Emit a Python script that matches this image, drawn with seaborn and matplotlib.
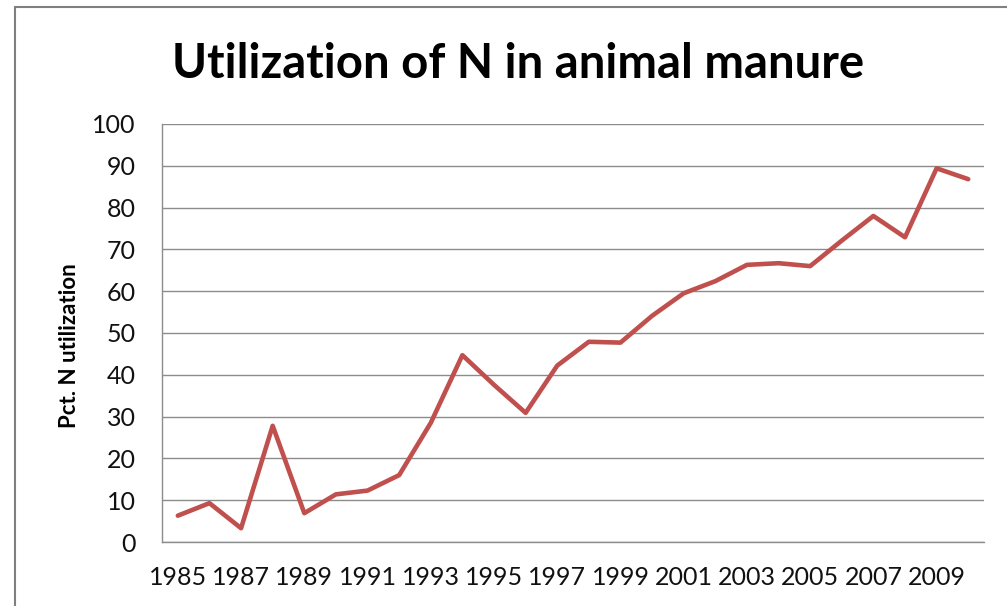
import numpy as np
import pandas as pd
import matplotlib.pyplot as plt
import seaborn as sns
from matplotlib.patches import Rectangle
from matplotlib.ticker import MultipleLocator

years = list(range(1985, 2011))
pct_n = [6.3, 9.3, 3.3, 27.8, 6.9, 11.4, 12.3, 16.0, 28.5, 44.7,
         37.6, 30.9, 42.2, 47.9, 47.7, 54.1, 59.5, 62.4, 66.3, 66.7,
         66.0, 72.1, 78.0, 72.9, 89.4, 86.8]
label_years = list(range(1985, 2011, 2))

df = pd.DataFrame({'year': years, 'pct': pct_n})

sns.set_style('white')
plt.rcParams['font.family'] = ['Lato', 'DejaVu Sans']

fig = plt.figure(figsize=(10.07, 6.06), dpi=100)
ax = fig.add_axes([0.1609, 0.1056, 0.8163, 0.6898])

grid_col = '#8c8c8c'
sns.lineplot(data=df, x='year', y='pct', color='#C0504D', lw=3.3, ax=ax, zorder=3)

ax.set_xlim(1984.5, 2010.5)
ax.set_ylim(0, 100)
ax.yaxis.set_major_locator(MultipleLocator(10))
ax.set_xticks(label_years)
ax.set_xticks(np.arange(1984.5, 2011, 1), minor=True)
ax.tick_params(axis='x', which='major', length=0, pad=17, labelsize=18, labelcolor='#111111')
ax.tick_params(axis='x', which='minor', length=7, width=1, color=grid_col, direction='out')
ax.tick_params(axis='y', length=7, width=1, color=grid_col, pad=12, labelsize=18, labelcolor='#111111')
ax.yaxis.grid(True, color=grid_col, lw=1)
ax.xaxis.grid(False)

for s in ['top', 'right']:
    ax.spines[s].set_visible(False)
for s in ['left', 'bottom']:
    ax.spines[s].set_color(grid_col)
    ax.spines[s].set_linewidth(1)

ax.set_xlabel('')
ax.set_ylabel('Pct. N utilization', fontsize=16, fontweight='bold', color='#000000')
ax.yaxis.set_label_coords(-0.1, 0.47)

fig.text(518 / 1007, 0.895, 'Utilization of N in animal manure', ha='center', va='center',
         fontsize=34, fontweight='bold', color='#000000')

fig.patches.append(Rectangle((15 / 1007, -0.1), 1.2, 0.9884 + 0.1, transform=fig.transFigure,
                             fill=False, edgecolor='#808080', lw=1.5, figure=fig))

fig.savefig('out.png', dpi=100)
